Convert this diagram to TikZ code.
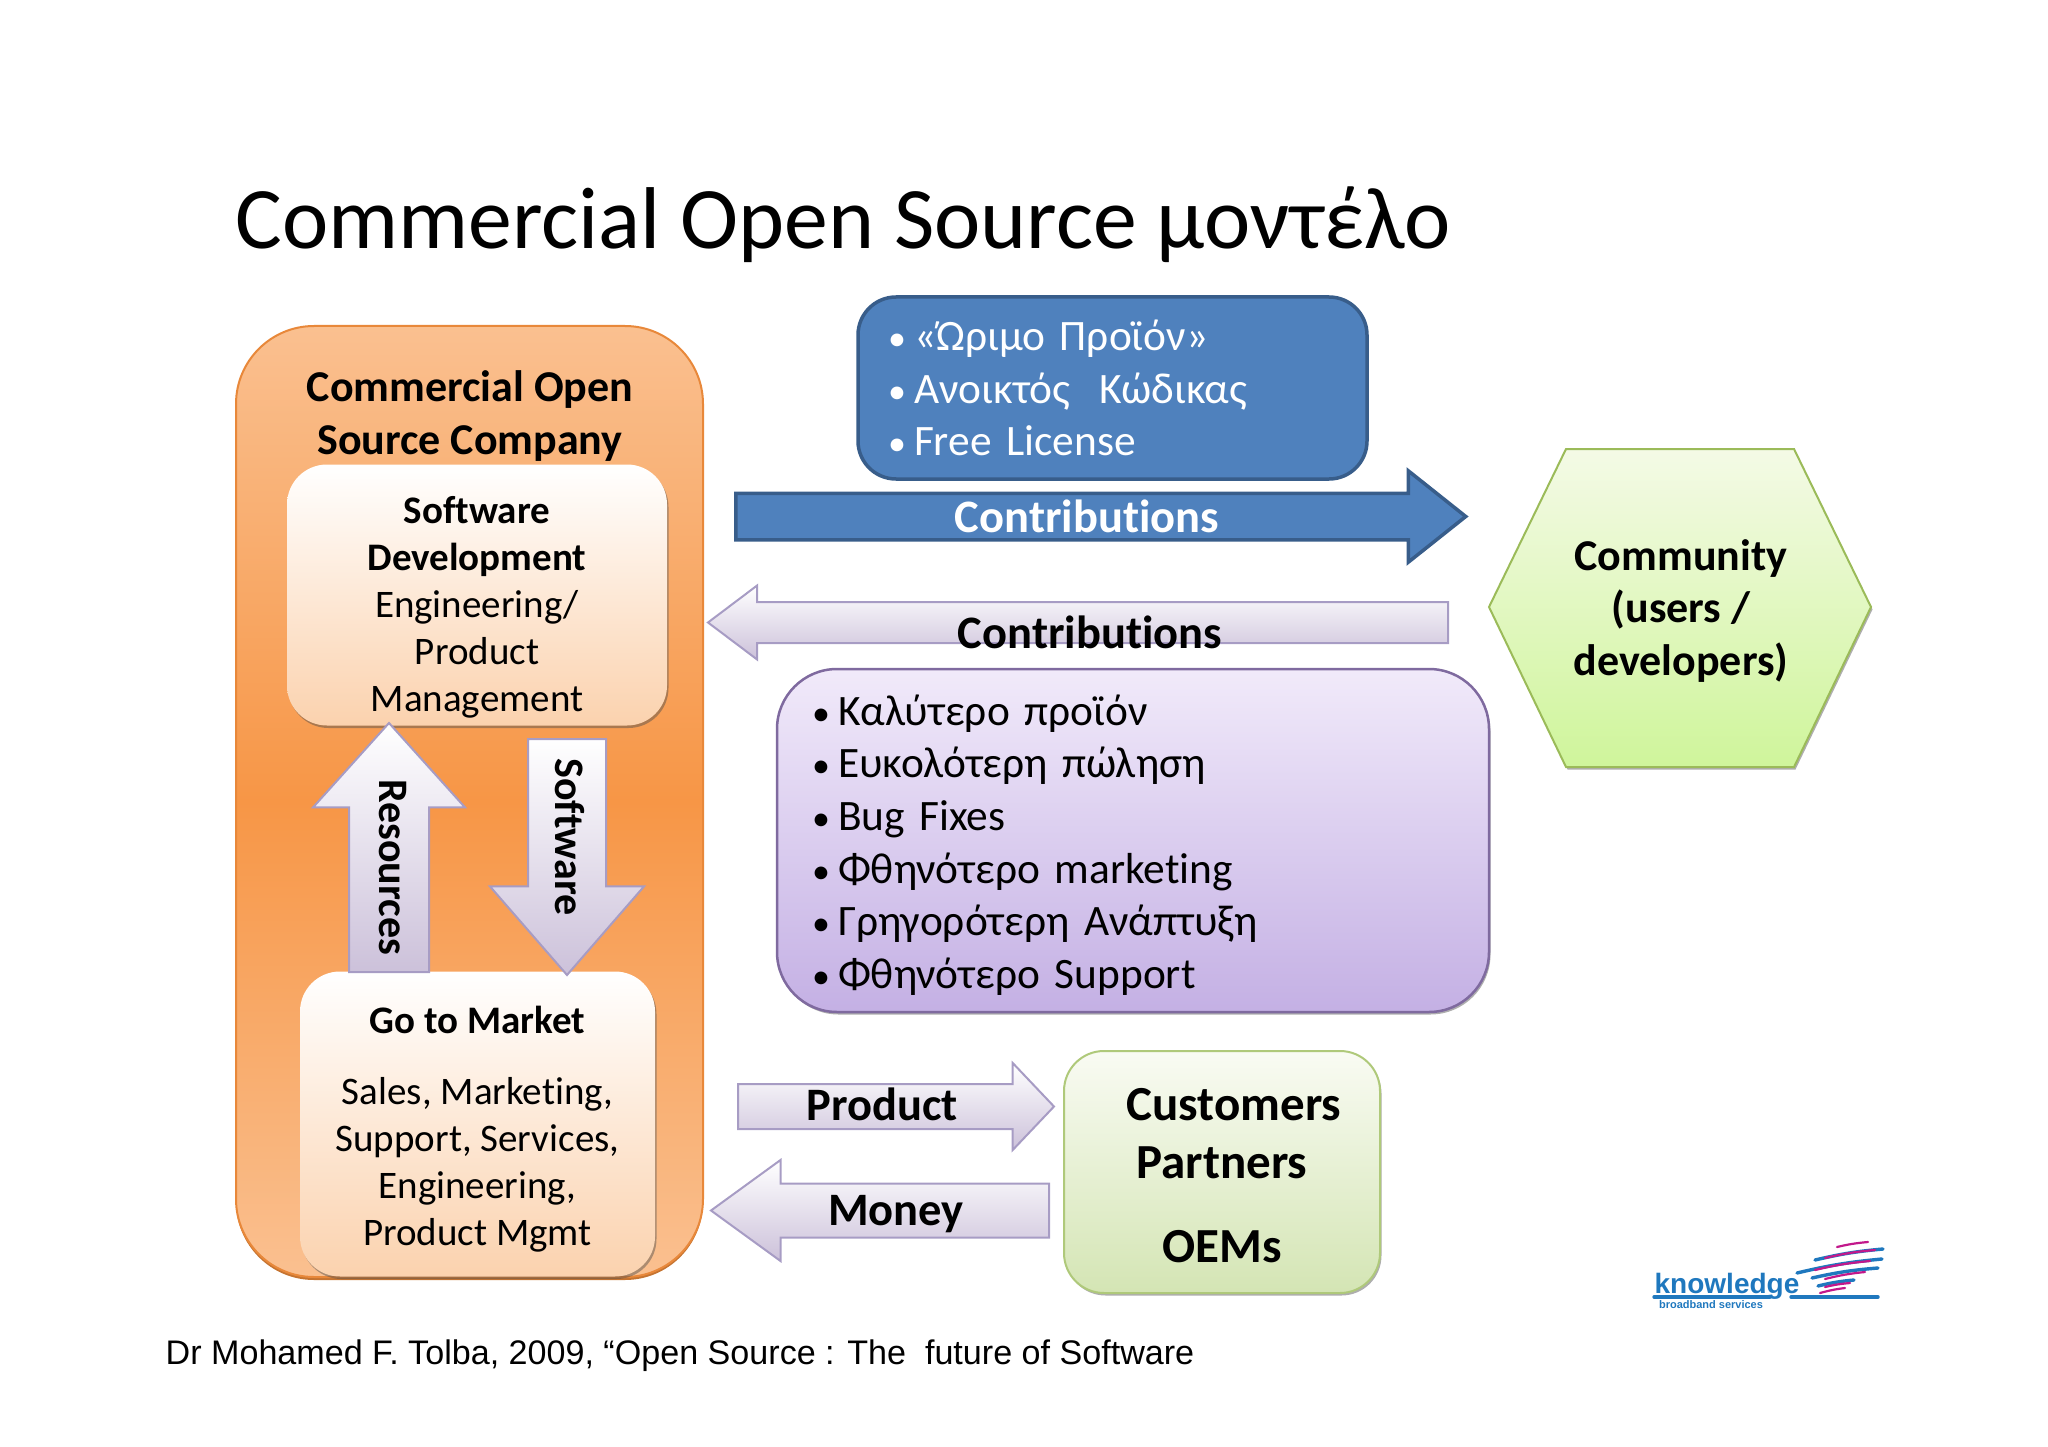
\documentclass[tikz,border=0pt]{standalone}
\usepackage{fontspec}
\setmainfont{Carlito}[Ligatures=NoCommon]
\newfontfamily\creditfont{Liberation Sans}
\usepackage{tikz}
\usetikzlibrary{shapes.arrows, shadows}

\definecolor{orangeline}{HTML}{E8883A}
\definecolor{orangeedge}{HTML}{FAC090}
\definecolor{orangemid}{HTML}{F79646}
\definecolor{peach}{HTML}{FBD2AE}
\definecolor{bluefill}{HTML}{4F81BD}
\definecolor{blueline}{HTML}{385D8A}
\definecolor{lilac}{HTML}{CCC1DA}
\definecolor{lilacline}{HTML}{A79CC4}
\definecolor{purpletop}{HTML}{F1EAFA}
\definecolor{purplebot}{HTML}{C4B0E4}
\definecolor{purpleline}{HTML}{7F6A9F}
\definecolor{hextop}{HTML}{F4FAE6}
\definecolor{hexbot}{HTML}{CFF59B}
\definecolor{hexline}{HTML}{9BBB59}
\definecolor{greentop}{HTML}{F9FBF3}
\definecolor{greenbot}{HTML}{D4E5B4}
\definecolor{logoblue}{HTML}{1F78BE}
\definecolor{logopink}{HTML}{C2188B}

\newcommand{\bul}{\makebox[26pt][l]{\fontsize{36}{36}\selectfont •}}

\tikzset{
  softshadow/.style={drop shadow={shadow xshift=1.5pt, shadow yshift=-2.5pt, opacity=.45, fill=black!70}},
  softbox/.style={rounded corners=40pt, top color=white, bottom color=peach, draw=none, softshadow,
    inner sep=0pt, align=center, font=\fontsize{39}{47}\selectfont},
  listbox/.style={rounded corners=#1, align=left, font=\fontsize{43.4}{52.6}\selectfont, line width=2.5pt},
  blockarrow/.style={single arrow, anchor=tail, single arrow head indent=0pt, line width=2pt,
    draw=lilacline, top color=white, bottom color=lilac},
  arrowlabel/.style={font=\fontsize{46.5}{52}\selectfont\bfseries, inner sep=0pt},
  uplabel/.style={font=\fontsize{42}{44}\selectfont\bfseries, inner sep=0pt, rotate=-90},
  logoline/.style={line width=3.4pt, line cap=round, logoblue},
  logopinkline/.style={line width=2.2pt, line cap=round, logopink}
}

\begin{document}
\begin{tikzpicture}[x=1pt, y=-1pt]
      \useasboundingbox (0,0) rectangle (2048,1447);
      \node [inner sep=0pt, font=\fontsize{87.7}{92}\selectfont] (title) at (843,225) {Commercial Open Source μοντέλο};

      \node [rounded corners=78pt, minimum width=467pt, minimum height=951pt, line width=2pt, draw=orangeline,
        top color=orangeedge, bottom color=orangeedge, middle color=orangemid,
        drop shadow={shadow xshift=0pt, shadow yshift=-3pt, opacity=1, fill=orangeline!85!black}] (company) at (469.5,801.5) {};
      \node [inner sep=0pt, align=center, font=\fontsize{44}{52.5}\selectfont\bfseries] (companytitle) at (470,416) {Commercial Open\\Source Company};

      \node [softbox, minimum width=380pt, minimum height=261pt] (development) at (477,595)
        {\rule{0pt}{52pt}\textbf{Software}\\\textbf{Development}\\Engineering/\\Product\\Management};
      \node [softbox, minimum width=355pt, minimum height=305pt] (market) at (477.5,1124)
        {\rule{0pt}{37pt}\textbf{Go to Market}\\[24pt]Sales, Marketing,\\Support, Services,\\Engineering,\\Product Mgmt};

      \node [blockarrow, inner sep=39pt, shape border rotate=90, minimum height=249pt, minimum width=150pt,
        single arrow head extend=36pt, single arrow tip angle=84] (resources) at (389,973) {};
      \node [uplabel] (resourceslabel) at (393,867) {Resources};
      \node [blockarrow, inner sep=38pt, shape border rotate=270, minimum height=236pt, minimum width=152pt,
        single arrow head extend=38pt, single arrow tip angle=82] (software) at (567,738) {};
      \node [uplabel] (softwarelabel) at (570,837) {Software};

      \node [listbox=38pt, line width=3.5pt, draw=blueline, fill=bluefill, text=white, minimum width=509pt, minimum height=182pt,
        text width=449pt, inner xsep=30pt, inner ysep=0pt] (offer) at (1112.5,388)
        {\bul«Ώριμο Προϊόν»\\\bul Ανοικτός~~Κώδικας\\\bul Free License};
      \node [single arrow, anchor=tail, inner sep=21.5pt, single arrow head indent=0pt, line width=3.5pt, draw=blueline, fill=bluefill,
        shape border rotate=0, minimum height=730pt, minimum width=88pt, single arrow head extend=22.5pt,
        single arrow tip angle=77] (contribout) at (734,516.5) {};
      \node [arrowlabel, text=white] (contriboutlabel) at (1087,516) {Contributions};

      \node [blockarrow, inner sep=19.5pt, shape border rotate=180, minimum height=740pt, minimum width=72pt,
        single arrow head extend=16.5pt, single arrow tip angle=74] (contribin) at (1449,622.5) {};
      \node [arrowlabel] (contribinlabel) at (1090,632) {Contributions};

      \node [listbox=60pt, draw=purpleline, top color=purpletop, bottom color=purplebot, minimum width=712pt, minimum height=343pt,
        text width=642pt, inner xsep=35pt, inner ysep=0pt, softshadow] (benefits) at (1133,840.5)
        {\rule{0pt}{39.5pt}\bul Καλύτερο προϊόν\\\bul Ευκολότερη πώληση\\\bul Bug Fixes\\\bul Φθηνότερο marketing\\\bul Γρηγορότερη Ανάπτυξη\\\bul Φθηνότερο Support};

      \draw [line width=2pt, draw=hexline, top color=hextop, bottom color=hexbot, softshadow]
        (1489,607) -- (1566,449) -- (1794,449) -- (1871,607) -- (1794,767) -- (1566,767) -- cycle;
      \node [inner sep=0pt, align=center, font=\fontsize{44}{52.5}\selectfont\bfseries] (community) at (1681,611) {Community\\(users /\\developers)};

      \node [blockarrow, inner sep=21.5pt, shape border rotate=0, minimum height=316pt, minimum width=85pt,
        single arrow head extend=21pt, single arrow tip angle=93] (product) at (737,1106.5) {};
      \node [arrowlabel] (productlabel) at (882,1104) {Product};
      \node [blockarrow, inner sep=26pt, shape border rotate=180, minimum height=338pt, minimum width=99pt,
        single arrow head extend=23.5pt, single arrow tip angle=72] (money) at (1050,1210.5) {};
      \node [arrowlabel] (moneylabel) at (896,1214) {Money};

      \node [rounded corners=40pt, line width=2pt, draw=hexline!80, top color=greentop, bottom color=greenbot, softshadow,
        minimum width=316pt, minimum height=242pt, inner sep=0pt, align=center, font=\fontsize{49}{58}\selectfont\bfseries] (customers) at (1222,1172)
        {\rule{0pt}{40pt}\hspace*{24pt}Customers\\Partners\\[26pt]OEMs};

      \node [inner sep=0pt, font=\creditfont\fontsize{34.1}{40}\selectfont] (credit) at (680,1356) {Dr Mohamed F. Tolba, 2009, “Open Source : The~~future of Software};

      \node [inner sep=0pt, text=logoblue, font=\creditfont\fontsize{28}{30}\selectfont\bfseries] (logoname) at (1727,1286) {knowledge};
      \node [inner sep=0pt, text=logoblue, font=\creditfont\fontsize{11}{12}\selectfont\bfseries] (logosub) at (1711,1305) {broadband services};
      \draw [logoline] (1654,1297) -- (1770,1297);
      \draw [logoline] (1791,1297) -- (1878,1297);
      \draw [logoline] (1815,1260) to[bend left=4] (1883,1249);
      \draw [logoline] (1797,1273) to[bend left=4] (1882,1259);
      \draw [logoline] (1812,1278) to[bend left=4] (1878,1268);
      \draw [logoline] (1818,1286) to[bend left=4] (1854,1280);
      \draw [logopinkline] (1837,1247) to[bend left=4] (1868,1242);
      \draw [logopinkline] (1825,1258) to[bend left=4] (1875,1250);
      \draw [logopinkline] (1815,1270) to[bend left=4] (1870,1261);
      \draw [logopinkline] (1825,1279) to[bend left=4] (1865,1272);
      \draw [logopinkline] (1825,1287) to[bend left=4] (1850,1283);
      \draw [logopinkline] (1820,1293) to[bend left=4] (1845,1288);
\end{tikzpicture}
\end{document}
